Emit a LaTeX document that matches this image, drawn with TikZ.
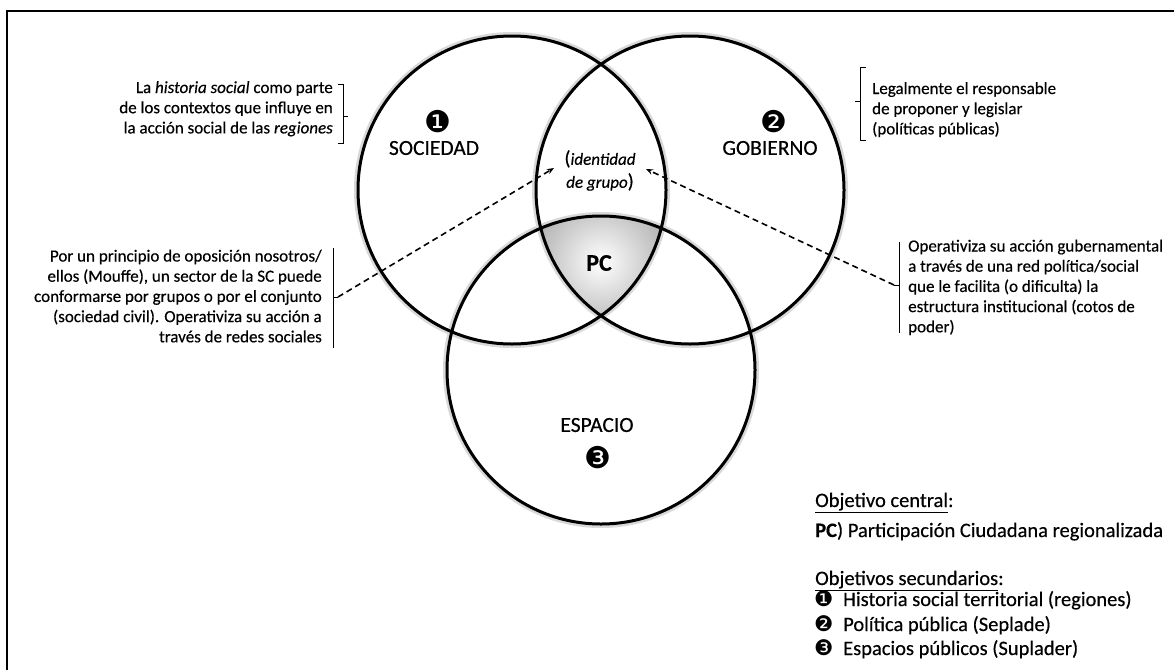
\documentclass[tikz,border=0pt]{standalone}
\usepackage{fontspec}
\setmainfont{Carlito}[FakeBold=0.4]
\newfontfamily\dingfont{DejaVu Sans}
\usetikzlibrary{arrows.meta}

\begin{document}
\begin{tikzpicture}[x=1pt,y=-1pt,
  ring/.style={line width=3pt},
  glow/.style={line width=3pt, gray!30},
  note/.style={inner sep=0pt, font=\fontsize{17}{20.2}\selectfont},
  legend/.style={inner sep=0pt, font=\fontsize{20.5}{24}\selectfont},
  bigword/.style={inner sep=0pt, font=\fontsize{21.5}{22}\selectfont},
  num/.style={inner sep=0pt, font=\dingfont\fontsize{30}{30}\selectfont},
  numsmall/.style={inner sep=0pt, font=\dingfont\fontsize{21.5}{21.5}\selectfont},
  brk/.style={line width=1pt},
  link/.style={line width=1.6pt, dash pattern=on 6pt off 4pt, -{Stealth[length=7pt,width=5.5pt]}},
]
\useasboundingbox (0,0) rectangle (1174,670);

% outer frame (left and top edges)
\draw[line width=1.4pt] (7,670) -- (7,11) -- (1174,11);

% circle centres
\coordinate (cS) at (512,190);
\coordinate (cG) at (690,190);
\coordinate (cE) at (601,370);

% soft halo around the rings
\foreach \c in {cS,cG,cE} \draw[glow] (\c) circle[radius=156.5pt];

% shaded common area (PC)
\begin{scope}
  \clip (cS) circle[radius=154pt];
  \clip (cG) circle[radius=154pt];
  \clip (cE) circle[radius=154pt];
  \shade[inner color=white, outer color=gray!62] (601,262) circle[radius=72pt];
\end{scope}

% rings
\foreach \c in {cS,cG,cE} \draw[ring] (\c) circle[radius=154pt];

% ring labels
\node[num] (n1) at (438,122) {❶};
\node[bigword] (soc) at (434,148) {SOCIEDAD};
\node[num] (n2) at (774,122) {❷};
\node[bigword] (gob) at (770,148) {GOBIERNO};
\node[bigword] (esp) at (597,425) {ESPACIO};
\node[num] (n3) at (598,458) {❸};
\node[inner sep=0pt, font=\bfseries\fontsize{24}{24}\selectfont] (pc) at (599,263) {PC};

\node[inner sep=0pt, align=center, font=\fontsize{17}{23}\selectfont, anchor=north] (idg) at (600,150)
  {{\fontsize{20}{20}\selectfont(}\textit{identidad}\\\textit{de grupo}{\fontsize{20}{20}\selectfont)}};

% side notes
\node[note, align=right, anchor=north east] (histo) at (333,81)
  {La \textit{historia social} como parte\\de los contextos que influye en\\la acción social de las \textit{regiones}};
\node[note, align=left, anchor=north west] (legal) at (872,82)
  {Legalmente el responsable\\de proponer y legislar\\(políticas públicas)};
\node[note, align=right, anchor=north east] (oposi) at (322,249.5)
  {Por un principio de oposición nosotros/\\ellos (Mouffe), un sector de la SC puede\\conformarse por grupos o por el conjunto\\(sociedad civil). Operativiza su acción a\\través de redes sociales};
\node[note, align=left, anchor=north west] (guber) at (908,239.5)
  {Operativiza su acción gubernamental\\a través de una red política/social\\que le facilita (o dificulta) la\\estructura institucional (cotos de\\poder)};

% brackets beside the notes
\draw[brk] (338,84) -- (343,84) -- (343,143) -- (338,143);
\draw[brk] (343,116) -- (348,116);
\draw[brk] (866,67) -- (860,67) -- (860,140) -- (866,140);
\draw[brk] (860,101) -- (855,101);
\draw[brk] (333,248) -- (333,348);
\draw[brk] (333,297) -- (338,297);
\draw[brk] (899,242) -- (899,333);
\draw[brk] (899,285) -- (894,285);

% dashed links to the group identity
\coordinate (tL) at (338,297);
\coordinate (tR) at (894,285);
\coordinate (aL) at (554,168);
\coordinate (aR) at (646,169);
\draw[link] (tL) -- (aL);
\draw[link] (tR) -- (aR);

% legend
\node[legend, anchor=base west] (lc) at (815,507) {\underline{Objetivo central}:};
\node[legend, anchor=base west] (lpc) at (815,537) {\textbf{PC}) Participación Ciudadana regionalizada};
\node[legend, anchor=base west] (ls) at (815,585) {\underline{Objetivos secundarios}:};
\node[numsmall, anchor=base west] (l1) at (814,606) {❶};
\node[legend, anchor=base west] (l1t) at (843,606) {Historia social territorial (regiones)};
\node[numsmall, anchor=base west] (l2) at (814,631) {❷};
\node[legend, anchor=base west] (l2t) at (843,631) {Política pública (Seplade)};
\node[numsmall, anchor=base west] (l3) at (814,655) {❸};
\node[legend, anchor=base west] (l3t) at (843,655) {Espacios públicos (Suplader)};
\end{tikzpicture}
\end{document}
